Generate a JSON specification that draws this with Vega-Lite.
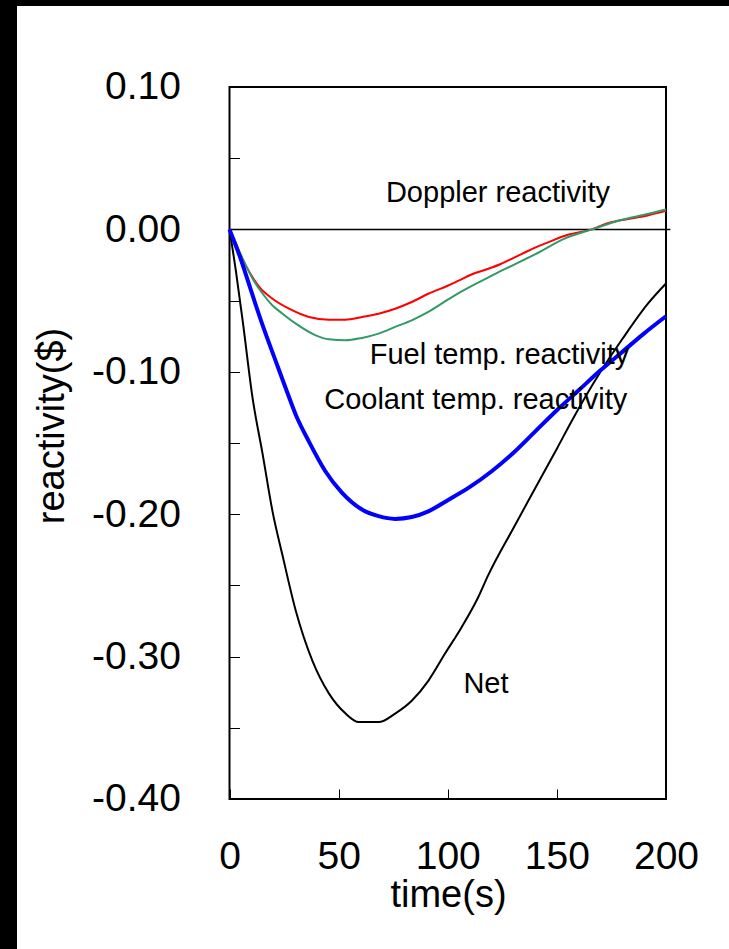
{
  "$schema": "https://vega.github.io/schema/vega-lite/v6.json",
  "width": 712,
  "height": 943,
  "autosize": {"type": "none"},
  "padding": {"left": 17, "top": 6, "right": 0, "bottom": 0},
  "background": "black",
  "config": {
    "view": {"fill": "white", "stroke": null},
    "font": "Liberation Sans",
    "axis": {"grid": false, "domain": false, "labelFont": "Liberation Sans", "titleFont": "Liberation Sans", "labelColor": "black", "titleColor": "black", "tickColor": "black", "titleFontWeight": "normal"}
  },
  "datasets": {
    "one": [{"k": 1}],
    "curves": [
      {"s": "Doppler", "t": 0, "r": 0}, {"s": "Doppler", "t": 3, "r": -0.010}, {"s": "Doppler", "t": 6, "r": -0.021}, {"s": "Doppler", "t": 9.1, "r": -0.030},
      {"s": "Doppler", "t": 13.7, "r": -0.0406}, {"s": "Doppler", "t": 19.7, "r": -0.0487}, {"s": "Doppler", "t": 27.3, "r": -0.0557}, {"s": "Doppler", "t": 36.4, "r": -0.0615},
      {"s": "Doppler", "t": 45.6, "r": -0.0634}, {"s": "Doppler", "t": 53.1, "r": -0.0634}, {"s": "Doppler", "t": 60.7, "r": -0.0615}, {"s": "Doppler", "t": 68.3, "r": -0.0592},
      {"s": "Doppler", "t": 75.9, "r": -0.0557}, {"s": "Doppler", "t": 83.5, "r": -0.051}, {"s": "Doppler", "t": 91.1, "r": -0.0452}, {"s": "Doppler", "t": 100.2, "r": -0.0394},
      {"s": "Doppler", "t": 105, "r": -0.036}, {"s": "Doppler", "t": 112, "r": -0.031}, {"s": "Doppler", "t": 118.9, "r": -0.0275}, {"s": "Doppler", "t": 124, "r": -0.0245},
      {"s": "Doppler", "t": 129.5, "r": -0.0205}, {"s": "Doppler", "t": 134, "r": -0.0172}, {"s": "Doppler", "t": 140, "r": -0.0128}, {"s": "Doppler", "t": 146, "r": -0.0091}, {"s": "Doppler", "t": 155, "r": -0.0038},
      {"s": "Doppler", "t": 166, "r": 0.0}, {"s": "Doppler", "t": 173.6, "r": 0.0045}, {"s": "Doppler", "t": 184, "r": 0.0077}, {"s": "Doppler", "t": 192, "r": 0.010},
      {"s": "Doppler", "t": 200, "r": 0.013},

      {"s": "Fuel", "t": 0, "r": 0}, {"s": "Fuel", "t": 4.6, "r": -0.016}, {"s": "Fuel", "t": 6.1, "r": -0.0207}, {"s": "Fuel", "t": 10.6, "r": -0.0347},
      {"s": "Fuel", "t": 15.2, "r": -0.0452}, {"s": "Fuel", "t": 19.7, "r": -0.0534}, {"s": "Fuel", "t": 24.3, "r": -0.0592}, {"s": "Fuel", "t": 30.4, "r": -0.0662},
      {"s": "Fuel", "t": 39.5, "r": -0.0744}, {"s": "Fuel", "t": 45.6, "r": -0.0772}, {"s": "Fuel", "t": 53.1, "r": -0.0779}, {"s": "Fuel", "t": 60.7, "r": -0.0762},
      {"s": "Fuel", "t": 68.3, "r": -0.0732}, {"s": "Fuel", "t": 75.9, "r": -0.0685}, {"s": "Fuel", "t": 83.5, "r": -0.0639}, {"s": "Fuel", "t": 91.1, "r": -0.058},
      {"s": "Fuel", "t": 100.2, "r": -0.0492}, {"s": "Fuel", "t": 107, "r": -0.043}, {"s": "Fuel", "t": 114.4, "r": -0.037}, {"s": "Fuel", "t": 122, "r": -0.031},
      {"s": "Fuel", "t": 129.5, "r": -0.0254}, {"s": "Fuel", "t": 140.2, "r": -0.0173}, {"s": "Fuel", "t": 153.8, "r": -0.0063}, {"s": "Fuel", "t": 167.5, "r": 0.0007},
      {"s": "Fuel", "t": 176.6, "r": 0.0054}, {"s": "Fuel", "t": 184.2, "r": 0.0084}, {"s": "Fuel", "t": 192, "r": 0.011}, {"s": "Fuel", "t": 200, "r": 0.014},

      {"s": "Coolant", "t": 0, "r": 0}, {"s": "Coolant", "t": 4.6, "r": -0.0184}, {"s": "Coolant", "t": 10.6, "r": -0.0464}, {"s": "Coolant", "t": 15.2, "r": -0.0674},
      {"s": "Coolant", "t": 21.3, "r": -0.093}, {"s": "Coolant", "t": 25.8, "r": -0.1117}, {"s": "Coolant", "t": 30.4, "r": -0.1303}, {"s": "Coolant", "t": 36.4, "r": -0.149},
      {"s": "Coolant", "t": 44.0, "r": -0.170}, {"s": "Coolant", "t": 51.6, "r": -0.185}, {"s": "Coolant", "t": 60.7, "r": -0.1967}, {"s": "Coolant", "t": 68.3, "r": -0.2014},
      {"s": "Coolant", "t": 75.9, "r": -0.2033}, {"s": "Coolant", "t": 83.5, "r": -0.202}, {"s": "Coolant", "t": 91.1, "r": -0.198}, {"s": "Coolant", "t": 100.2, "r": -0.190},
      {"s": "Coolant", "t": 110, "r": -0.181}, {"s": "Coolant", "t": 120, "r": -0.170}, {"s": "Coolant", "t": 130, "r": -0.157}, {"s": "Coolant", "t": 140, "r": -0.142},
      {"s": "Coolant", "t": 150, "r": -0.127}, {"s": "Coolant", "t": 160, "r": -0.113}, {"s": "Coolant", "t": 170, "r": -0.099}, {"s": "Coolant", "t": 180, "r": -0.086},
      {"s": "Coolant", "t": 190, "r": -0.073}, {"s": "Coolant", "t": 200, "r": -0.061},

      {"s": "Net", "t": 0, "r": 0}, {"s": "Net", "t": 3.0, "r": -0.030}, {"s": "Net", "t": 6.1, "r": -0.065}, {"s": "Net", "t": 10.6, "r": -0.1187},
      {"s": "Net", "t": 15.2, "r": -0.158}, {"s": "Net", "t": 19.7, "r": -0.198}, {"s": "Net", "t": 24.3, "r": -0.229}, {"s": "Net", "t": 30.4, "r": -0.268},
      {"s": "Net", "t": 38, "r": -0.303}, {"s": "Net", "t": 45.6, "r": -0.326}, {"s": "Net", "t": 53.2, "r": -0.340}, {"s": "Net", "t": 59.2, "r": -0.346},
      {"s": "Net", "t": 68.3, "r": -0.346}, {"s": "Net", "t": 75.9, "r": -0.340}, {"s": "Net", "t": 83.5, "r": -0.331}, {"s": "Net", "t": 91.1, "r": -0.317},
      {"s": "Net", "t": 98.7, "r": -0.298}, {"s": "Net", "t": 106.3, "r": -0.2795}, {"s": "Net", "t": 113.9, "r": -0.2585}, {"s": "Net", "t": 118.5, "r": -0.243},
      {"s": "Net", "t": 130, "r": -0.210}, {"s": "Net", "t": 140, "r": -0.182}, {"s": "Net", "t": 150, "r": -0.154}, {"s": "Net", "t": 157, "r": -0.134},
      {"s": "Net", "t": 170, "r": -0.100}, {"s": "Net", "t": 180, "r": -0.077}, {"s": "Net", "t": 191.8, "r": -0.052}, {"s": "Net", "t": 200, "r": -0.038}
    ],
    "labels": [
      {"label": "Doppler reactivity", "t": 123, "r": 0.0259},
      {"label": "Fuel temp. reactivity", "t": 123.7, "r": -0.088},
      {"label": "Coolant temp. reactivity", "t": 112.8, "r": -0.1198},
      {"label": "Net", "t": 117.5, "r": -0.319}
    ]
  },
  "layer": [
    {
      "data": {"name": "one"},
      "mark": {"type": "rule", "color": "black", "strokeWidth": 1.5},
      "encoding": {
        "x": {"datum": 0, "type": "quantitative", "scale": {"domain": [-97.37, 228.87], "nice": false, "zero": false},
          "axis": {"orient": "bottom", "offset": -150, "values": [0, 50, 100, 150, 200], "tickSize": -10, "tickWidth": 1, "labelFontSize": 39, "labelPadding": 67, "labelBaseline": "middle", "labelFlush": false, "labelOverlap": false,
            "title": "time(s)", "titleFontSize": 38, "titleX": 431, "titleY": 96, "titleBaseline": "middle", "titleAlign": "center", "titleAnchor": null}},
        "x2": {"datum": 202},
        "y": {"datum": 0, "type": "quantitative", "scale": {"domain": [-0.50534, 0.15688], "nice": false, "zero": false},
          "axis": {"orient": "left", "offset": -212.5, "values": [-0.4, -0.35, -0.3, -0.25, -0.2, -0.15, -0.1, -0.05, 0, 0.05, 0.1], "tickSize": -10, "tickWidth": 1, "labelFontSize": 39, "labelPadding": 59, "labelFlush": false, "labelOverlap": false, "labelBaseline": "middle",
            "labelExpr": "abs(round(datum.value*100)) % 10 == 0 ? (datum.value < -0.001 ? '-' : '') + format(abs(datum.value), '.2f') : ''",
            "title": "reactivity($)", "titleFontSize": 38, "titleAngle": -90, "titleX": -177.5, "titleY": 419.5, "titleBaseline": "middle", "titleAlign": "center", "titleAnchor": null}}
      }
    },
    {
      "data": {"name": "one"},
      "mark": {"type": "rect", "fillOpacity": 0, "fill": "white", "stroke": "black", "strokeWidth": 2},
      "encoding": {"x": {"datum": 0, "type": "quantitative"}, "x2": {"datum": 200}, "y": {"datum": -0.4, "type": "quantitative"}, "y2": {"datum": 0.1}}
    },
    {
      "data": {"name": "curves"},
      "transform": [{"filter": "datum.s == 'Net'"}],
      "mark": {"type": "line", "color": "black", "strokeWidth": 2, "interpolate": "monotone"},
      "encoding": {"x": {"field": "t", "type": "quantitative"}, "y": {"field": "r", "type": "quantitative"}}
    },
    {
      "data": {"name": "curves"},
      "transform": [{"filter": "datum.s == 'Doppler'"}],
      "mark": {"type": "line", "color": "#ff0000", "strokeWidth": 2, "interpolate": "monotone"},
      "encoding": {"x": {"field": "t", "type": "quantitative"}, "y": {"field": "r", "type": "quantitative"}}
    },
    {
      "data": {"name": "curves"},
      "transform": [{"filter": "datum.s == 'Fuel'"}],
      "mark": {"type": "line", "color": "#339966", "strokeWidth": 2, "interpolate": "monotone"},
      "encoding": {"x": {"field": "t", "type": "quantitative"}, "y": {"field": "r", "type": "quantitative"}}
    },
    {
      "data": {"name": "curves"},
      "transform": [{"filter": "datum.s == 'Coolant'"}],
      "mark": {"type": "line", "color": "#0000ff", "strokeWidth": 4, "interpolate": "monotone"},
      "encoding": {"x": {"field": "t", "type": "quantitative"}, "y": {"field": "r", "type": "quantitative"}}
    },
    {
      "data": {"name": "labels"},
      "mark": {"type": "text", "font": "Liberation Sans", "fontSize": 29, "color": "black", "align": "center", "baseline": "middle"},
      "encoding": {"x": {"field": "t", "type": "quantitative"}, "y": {"field": "r", "type": "quantitative"}, "text": {"field": "label"}}
    }
  ]
}
